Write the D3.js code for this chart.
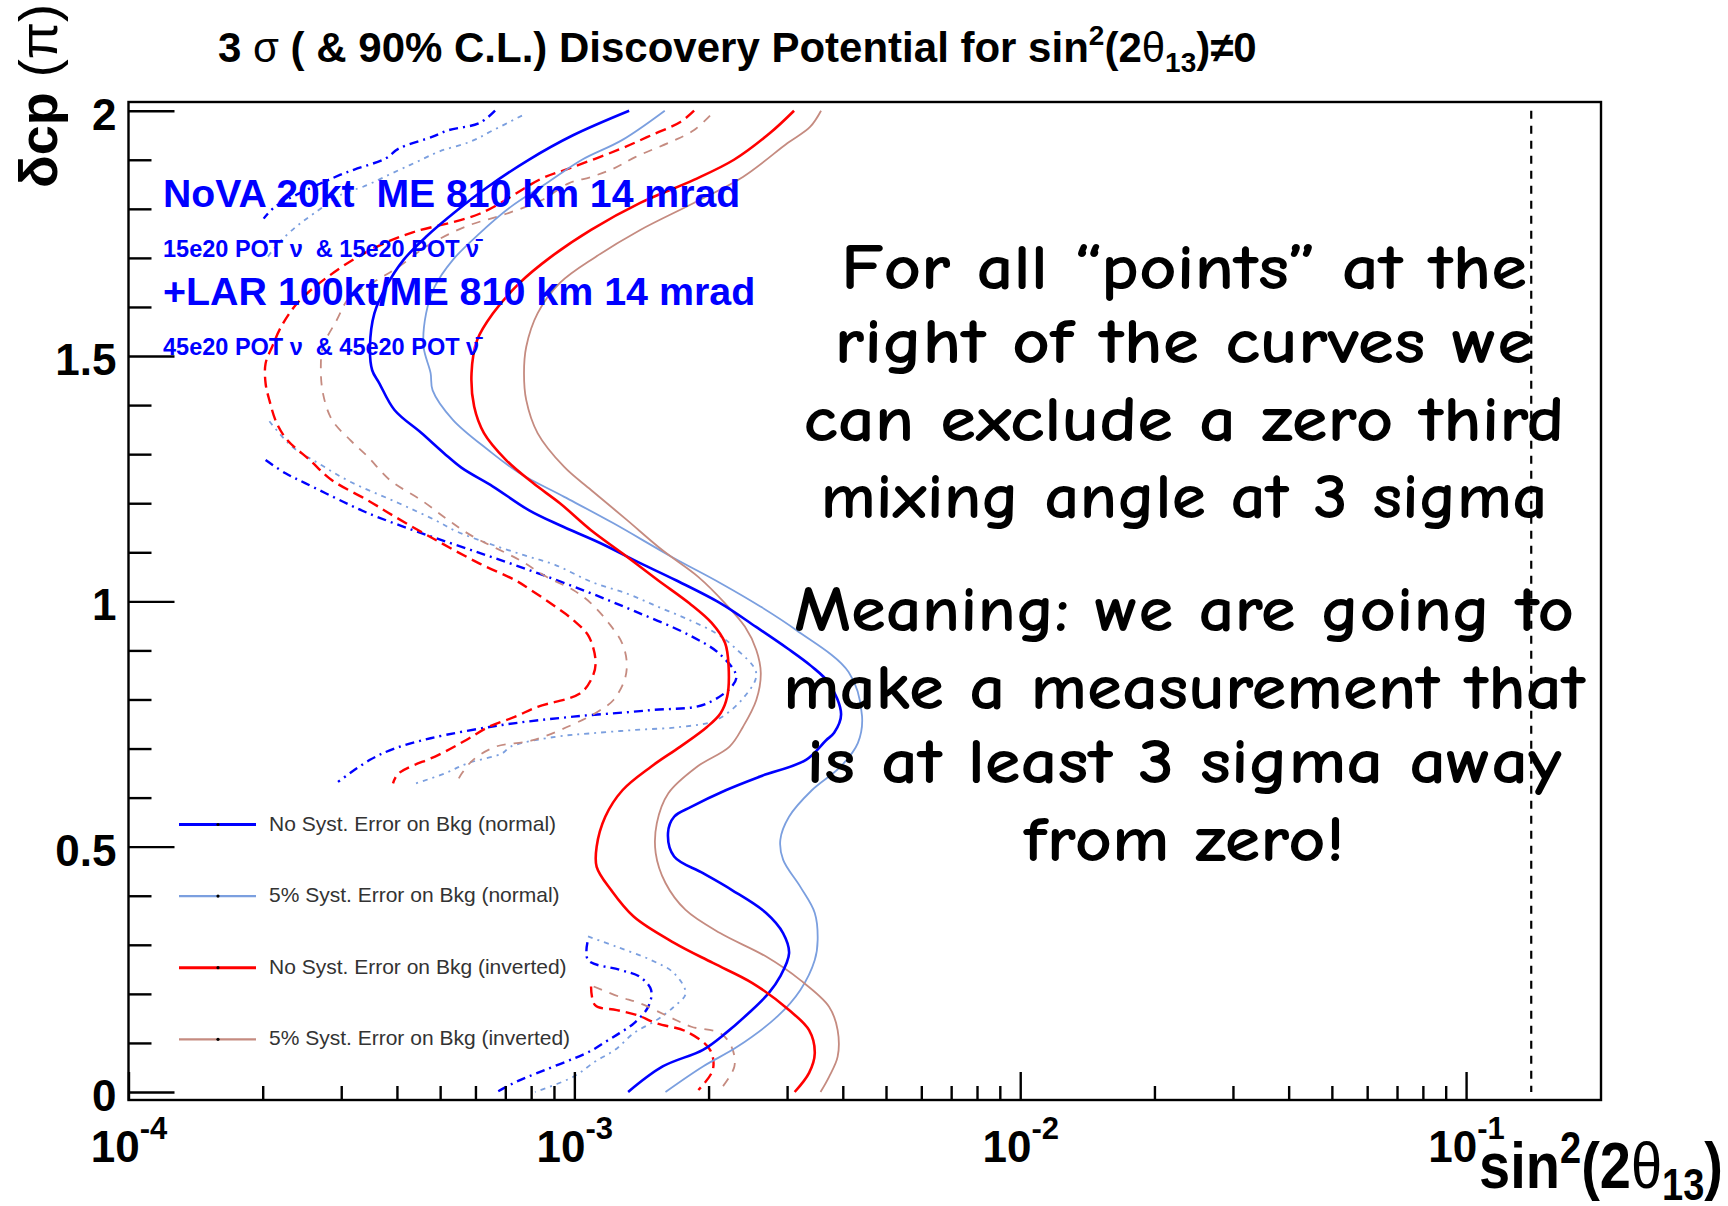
<!DOCTYPE html>
<html>
<head>
<meta charset="utf-8">
<script src="https://cdn.jsdelivr.net/npm/d3@7"></script>
<style>
  html, body { margin: 0; padding: 0; background: #fff; }
  svg { display: block; }
  .root { font-family: "Liberation Sans", Arial, Helvetica, sans-serif; }
  .note { font-family: "Comic Sans MS", "Comic Neue", "Open Sans", sans-serif; font-weight: 600; }
</style>
</head>
<body>
<svg id="chart" width="1728" height="1206"></svg>
<script>
// ---- contour points: [sin^2(2θ13), δcp / π] ----
const blueSolid = [[1.327e-3,2.0],[9.93e-4,1.95],[7.90e-4,1.90],[6.40e-4,1.845],[5.46e-4,1.797],[4.65e-4,1.743],[4.14e-4,1.696],[3.78e-4,1.641],[3.56e-4,1.587],[3.48e-4,1.519],[3.52e-4,1.471],[3.65e-4,1.445],[3.95e-4,1.39],[4.54e-4,1.343],[5.10e-4,1.302],[5.59e-4,1.272],[6.57e-4,1.234],[7.90e-4,1.186],[9.28e-4,1.155],[1.142e-3,1.119],[1.405e-3,1.078],[1.690e-3,1.043],[2.128e-3,0.996],[2.556e-3,0.948],[3.008e-3,0.904],[3.40e-3,0.868],[3.726e-3,0.833],[3.965e-3,0.77],[3.825e-3,0.732],[3.670e-3,0.717],[3.308e-3,0.677],[2.610e-3,0.643],[2.185e-3,0.615],[1.827e-3,0.581],[1.674e-3,0.561],[1.622e-3,0.528],[1.674e-3,0.480],[1.943e-3,0.446],[2.252e-3,0.412],[2.692e-3,0.365],[2.938e-3,0.324],[3.031e-3,0.283],[2.893e-3,0.235],[2.731e-3,0.202],[2.461e-3,0.161],[2.185e-3,0.12],[1.943e-3,0.086],[1.578e-3,0.052],[1.320e-3,0.0]];
const lightBlueSolid = [[1.595e-3,2.0],[1.279e-3,1.94],[1.040e-3,1.90],[8.66e-4,1.852],[7.20e-4,1.804],[6.13e-4,1.75],[5.34e-4,1.696],[4.86e-4,1.641],[4.65e-4,1.587],[4.59e-4,1.519],[4.76e-4,1.465],[4.81e-4,1.43],[5.34e-4,1.37],[6.42e-4,1.308],[7.54e-4,1.261],[9.49e-4,1.213],[1.224e-3,1.159],[1.651e-3,1.091],[2.128e-3,1.037],[2.619e-3,0.989],[3.149e-3,0.941],[4.121e-3,0.856],[4.418e-3,0.766],[4.323e-3,0.711],[3.954e-3,0.663],[3.409e-3,0.615],[3.030e-3,0.561],[2.897e-3,0.514],[2.940e-3,0.473],[3.213e-3,0.418],[3.461e-3,0.365],[3.513e-3,0.31],[3.461e-3,0.269],[3.213e-3,0.208],[2.854e-3,0.154],[2.319e-3,0.092],[1.943e-3,0.052],[1.601e-3,0.0]];
const redSolid = [[3.110e-3,2.0],[2.742e-3,1.954],[2.280e-3,1.9],[1.853e-3,1.859],[1.405e-3,1.812],[1.090e-3,1.757],[8.86e-4,1.702],[7.54e-4,1.649],[6.57e-4,1.587],[6.05e-4,1.532],[5.88e-4,1.465],[5.96e-4,1.397],[6.27e-4,1.343],[7.03e-4,1.288],[8.08e-4,1.241],[9.28e-4,1.2],[1.090e-3,1.145],[1.281e-3,1.098],[1.540e-3,1.043],[1.811e-3,0.996],[2.032e-3,0.956],[2.178e-3,0.915],[2.218e-3,0.867],[2.202e-3,0.806],[2.128e-3,0.772],[1.984e-3,0.744],[1.729e-3,0.704],[1.486e-3,0.663],[1.282e-3,0.615],[1.173e-3,0.561],[1.122e-3,0.50],[1.122e-3,0.459],[1.208e-3,0.412],[1.360e-3,0.357],[1.674e-3,0.304],[2.045e-3,0.263],[2.508e-3,0.222],[3.030e-3,0.167],[3.361e-3,0.126],[3.461e-3,0.079],[3.361e-3,0.039],[3.120e-3,0.0]];
const brownSolid = [[3.575e-3,2.0],[3.378e-3,1.967],[3.008e-3,1.934],[2.388e-3,1.865],[1.853e-3,1.812],[1.405e-3,1.757],[1.116e-3,1.702],[9.28e-4,1.649],[8.27e-4,1.587],[7.80e-4,1.519],[7.71e-4,1.465],[7.80e-4,1.41],[8.27e-4,1.343],[9.49e-4,1.274],[1.090e-3,1.227],[1.311e-3,1.166],[1.577e-3,1.104],[1.896e-3,1.05],[2.178e-3,0.996],[2.414e-3,0.948],[2.559e-3,0.901],[2.619e-3,0.854],[2.559e-3,0.799],[2.388e-3,0.744],[2.229e-3,0.704],[1.884e-3,0.663],[1.625e-3,0.609],[1.531e-3,0.548],[1.522e-3,0.487],[1.601e-3,0.426],[1.776e-3,0.371],[2.122e-3,0.324],[2.692e-3,0.276],[3.213e-3,0.228],[3.726e-3,0.174],[3.895e-3,0.126],[3.895e-3,0.072],[3.726e-3,0.031],[3.565e-3,0.0]];

// dashed contours stop where they reach the 2e-4 edge of the scan, so they come in pieces
const blueDashTop = [[6.64e-4,2.0],[6.13e-4,1.975],[5.21e-4,1.96],[4.81e-4,1.947],[4.04e-4,1.923],[3.78e-4,1.903],[3.21e-4,1.88],[2.98e-4,1.869],[2.13e-4,1.804],[2.01e-4,1.78]];
const blueDashMid = [[2.03e-4,1.288],[2.25e-4,1.261],[2.49e-4,1.241],[3.03e-4,1.203],[3.44e-4,1.18],[4.44e-4,1.142],[5.85e-4,1.105],[7.90e-4,1.064],[1.065e-3,1.02],[1.373e-3,0.979],[1.811e-3,0.931],[2.128e-3,0.891],[2.307e-3,0.843],[1.985e-3,0.792],[1.471e-3,0.778],[9.94e-4,0.765],[6.88e-4,0.748],[4.76e-4,0.721],[3.95e-4,0.7],[3.48e-4,0.677],[2.95e-4,0.632]];
const blueDashLow = [[1.07e-3,0.305],[1.073e-3,0.269],[1.263e-3,0.249],[1.401e-3,0.235],[1.486e-3,0.208],[1.465e-3,0.174],[1.360e-3,0.14],[1.263e-3,0.12],[1.178e-3,0.103],[1.079e-3,0.082],[7.96e-4,0.033],[7.30e-4,0.018],[6.70e-4,0.0]];
const lightBlueDashTop = [[7.63e-4,1.99],[6.57e-4,1.96],[5.85e-4,1.937],[4.98e-4,1.917],[4.44e-4,1.896],[4.04e-4,1.879],[3.36e-4,1.845],[3.03e-4,1.831],[2.61e-4,1.791],[2.38e-4,1.764],[2.17e-4,1.73],[2.03e-4,1.696]];
const lightBlueDashMid = [[2.07e-4,1.367],[2.33e-4,1.315],[2.67e-4,1.281],[3.14e-4,1.244],[4.04e-4,1.2],[4.86e-4,1.166],[5.46e-4,1.142],[6.42e-4,1.118],[7.71e-4,1.094],[9.07e-4,1.074],[1.090e-3,1.04],[1.311e-3,1.016],[1.540e-3,0.989],[1.811e-3,0.962],[2.079e-3,0.935],[2.280e-3,0.907],[2.559e-3,0.853],[2.388e-3,0.802],[2.079e-3,0.758],[1.729e-3,0.744],[1.373e-3,0.738],[1.090e-3,0.731],[9.07e-4,0.724],[7.20e-4,0.704],[6.88e-4,0.69],[5.76e-4,0.67],[5.11e-4,0.649],[4.41e-4,0.629]];
const lightBlueDashLow = [[1.073e-3,0.317],[1.244e-3,0.296],[1.486e-3,0.269],[1.674e-3,0.242],[1.776e-3,0.201],[1.674e-3,0.174],[1.531e-3,0.147],[1.360e-3,0.12],[1.234e-3,0.086],[1.113e-3,0.062],[9.95e-4,0.031],[8.16e-4,0.0]];
const redDashUpper = [[1.856e-3,2.0],[1.729e-3,1.977],[1.488e-3,1.95],[1.252e-3,1.92],[9.71e-4,1.882],[8.46e-4,1.862],[6.13e-4,1.79],[4.34e-4,1.752],[3.61e-4,1.723],[2.98e-4,1.679],[2.42e-4,1.613],[2.21e-4,1.563],[2.10e-4,1.519],[2.03e-4,1.485],[2.03e-4,1.444],[2.07e-4,1.41],[2.15e-4,1.363],[2.27e-4,1.329],[2.55e-4,1.288],[2.86e-4,1.247],[3.44e-4,1.206],[3.95e-4,1.173],[4.98e-4,1.121],[6.13e-4,1.077],[7.37e-4,1.043],[7.90e-4,1.026],[9.07e-4,0.989],[9.94e-4,0.962],[1.078e-3,0.928],[1.116e-3,0.874],[1.090e-3,0.84],[1.029e-3,0.812],[8.27e-4,0.785],[7.37e-4,0.765],[6.42e-4,0.744],[5.71e-4,0.717],[4.96e-4,0.687],[4.03e-4,0.649],[3.92e-4,0.629]];
const redDashLower = [[1.090e-3,0.215],[1.113e-3,0.177],[1.245e-3,0.167],[1.380e-3,0.157],[1.530e-3,0.14],[1.786e-3,0.123],[2.015e-3,0.086],[2.044e-3,0.045],[1.897e-3,0.004]];
const brownDashUpper = [[2.015e-3,1.99],[1.853e-3,1.96],[1.651e-3,1.937],[1.373e-3,1.906],[1.224e-3,1.882],[1.090e-3,1.865],[9.71e-4,1.852],[8.46e-4,1.818],[7.04e-4,1.79],[5.71e-4,1.764],[4.65e-4,1.723],[4.04e-4,1.682],[3.61e-4,1.655],[3.14e-4,1.621],[2.93e-4,1.573],[2.73e-4,1.519],[2.70e-4,1.478],[2.73e-4,1.424],[2.86e-4,1.37],[3.14e-4,1.329],[3.44e-4,1.295],[3.86e-4,1.247],[4.54e-4,1.206],[5.21e-4,1.166],[5.85e-4,1.135],[7.54e-4,1.084],[8.66e-4,1.05],[9.94e-4,1.023],[1.090e-3,0.996],[1.196e-3,0.955],[1.281e-3,0.914],[1.311e-3,0.874],[1.296e-3,0.84],[1.224e-3,0.799],[1.142e-3,0.778],[1.041e-3,0.758],[8.08e-4,0.717],[6.67e-4,0.704],[5.93e-4,0.677],[5.59e-4,0.649],[5.43e-4,0.629]];
const brownDashLower = [[1.105e-3,0.215],[1.263e-3,0.194],[1.401e-3,0.181],[1.625e-3,0.154],[1.830e-3,0.133],[2.122e-3,0.12],[2.252e-3,0.092],[2.285e-3,0.052],[2.122e-3,0.004]];

// reference limit drawn as a vertical dashed line
const limitValue = 0.14;

// axis ticks
const yMajorTicks = [0, 0.5, 1, 1.5, 2];
const yTickLabels = ["0", "0.5", "1", "1.5", "2"];
const xDecades = [1e-4, 1e-3, 1e-2, 1e-1];
const xExponents = ["-4", "-3", "-2", "-1"];

// legend entries and text blocks
const legendLabels = [
  "No Syst. Error on Bkg (normal)",
  "5% Syst. Error on Bkg (normal)",
  "No Syst. Error on Bkg (inverted)",
  "5% Syst. Error on Bkg (inverted)"
];
const noteLines = [
  "For all \u201Cpoints\u201D at the",
  "right of the curves we",
  "can exclude a zero third",
  "mixing angle at 3 sigma",
  "Meaning: we are going to",
  "make a measurement that",
  "is at least 3 sigma away",
  "from zero!"
];

// ---- layout ----
const svg = d3.select("#chart");
const frame = { left: 128.5, right: 1601, top: 102, bottom: 1100 };

const x = d3.scaleLog().domain([1e-4, 0.2]).range([128.5, 1600.3]);
const y = d3.scaleLinear().domain([0, 2]).range([1092, 110.7]);

const COLORS = { blue: "#0000ff", light: "#7b9fdf", red: "#ff0000", brown: "#c58b80" };
const DASH = { blue: "9,5,2,5", light: "5,5,2,5", red: "11,6", brown: "9,8" };

const seriesStyle = [
  { data: blueDashTop,        color: COLORS.blue,  width: 2.4, dash: DASH.blue },
  { data: blueDashMid,        color: COLORS.blue,  width: 2.4, dash: DASH.blue },
  { data: blueDashLow,        color: COLORS.blue,  width: 2.4, dash: DASH.blue },
  { data: lightBlueDashTop,   color: COLORS.light, width: 1.8, dash: DASH.light },
  { data: lightBlueDashMid,   color: COLORS.light, width: 1.8, dash: DASH.light },
  { data: lightBlueDashLow,   color: COLORS.light, width: 1.8, dash: DASH.light },
  { data: redDashUpper,       color: COLORS.red,   width: 2.4, dash: DASH.red },
  { data: redDashLower,       color: COLORS.red,   width: 2.4, dash: DASH.red },
  { data: brownDashUpper,     color: COLORS.brown, width: 1.8, dash: DASH.brown },
  { data: brownDashLower,     color: COLORS.brown, width: 1.8, dash: DASH.brown },
  { data: lightBlueSolid,     color: COLORS.light, width: 1.8, dash: null },
  { data: brownSolid,         color: COLORS.brown, width: 1.8, dash: null },
  { data: blueSolid,          color: COLORS.blue,  width: 2.6, dash: null },
  { data: redSolid,           color: COLORS.red,   width: 2.6, dash: null }
];

svg.append("rect").attr("width", 1728).attr("height", 1206).attr("fill", "#fff");

const plot = svg.append("g");
const line = d3.line()
  .x(d => x(d[0]))
  .y(d => y(d[1]))
  .curve(d3.curveCatmullRom.alpha(0.5));

plot.selectAll("path.curve")
  .data(seriesStyle)
  .join("path")
  .attr("class", "curve")
  .attr("d", s => line(s.data))
  .attr("fill", "none")
  .attr("stroke", s => s.color)
  .attr("stroke-width", s => s.width)
  .attr("stroke-dasharray", s => s.dash)
  .attr("stroke-linejoin", "round");

// vertical limit line
plot.append("line")
  .attr("x1", x(limitValue)).attr("x2", x(limitValue))
  .attr("y1", y(2)).attr("y2", y(0))
  .attr("stroke", "#000").attr("stroke-width", 2.2)
  .attr("stroke-dasharray", "8,7");

// ---- axes ----
const yAxis = d3.axisLeft(y).tickValues(yMajorTicks).tickSize(-46).tickPadding(12)
  .tickFormat((d, i) => yTickLabels[i]);
const yMinor = d3.axisLeft(y).tickValues(d3.range(1, 20).map(i => i / 10).filter(v => !yMajorTicks.includes(v)))
  .tickSize(-23).tickFormat("");

const gy = svg.append("g").attr("class", "root").attr("transform", `translate(${frame.left},0)`).call(yAxis);
const gym = svg.append("g").attr("transform", `translate(${frame.left},0)`).call(yMinor);
[gy, gym].forEach(g => {
  g.select(".domain").remove();
  g.selectAll(".tick line").attr("stroke", "#000").attr("stroke-width", 2.4);
});
gy.selectAll(".tick text")
  .attr("font-size", 44).attr("font-weight", "bold").attr("fill", "#000")
  .attr("font-family", "Liberation Sans, Arial, sans-serif")
  .attr("dy", "0.42em");

const xMinorVals = [];
xDecades.slice(0, 3).forEach(d => { for (let k = 2; k <= 9; k++) xMinorVals.push(d * k); });

const xAxis = d3.axisBottom(x).tickValues(xDecades).tickSize(-28).tickFormat("");
const xMinor = d3.axisBottom(x).tickValues(xMinorVals).tickSize(-14).tickFormat("");
const gx = svg.append("g").attr("transform", `translate(0,${frame.bottom})`).call(xAxis);
const gxm = svg.append("g").attr("transform", `translate(0,${frame.bottom})`).call(xMinor);
[gx, gxm].forEach(g => {
  g.select(".domain").remove();
  g.selectAll(".tick line").attr("stroke", "#000").attr("stroke-width", 2.4);
});
gx.selectAll(".tick").each(function (d, i) {
  const t = d3.select(this).append("text")
    .attr("class", "root")
    .attr("y", 62).attr("text-anchor", "middle")
    .attr("fill", "#000").attr("font-weight", "bold");
  t.append("tspan").attr("font-size", 44).text("10");
  t.append("tspan").attr("font-size", 31).attr("dy", -23).text(xExponents[i]);
});

// frame
svg.append("rect")
  .attr("x", frame.left).attr("y", frame.top)
  .attr("width", frame.right - frame.left).attr("height", frame.bottom - frame.top)
  .attr("fill", "none").attr("stroke", "#000").attr("stroke-width", 2.4);

// ---- titles ----
const title = svg.append("text").attr("class", "root")
  .attr("x", 218).attr("y", 62).attr("font-size", 42).attr("font-weight", "bold").attr("fill", "#000");
title.append("tspan").text("3 ");
title.append("tspan").attr("font-weight", "normal").text("\u03C3");
title.append("tspan").text(" ( & 90% C.L.) Discovery Potential for sin");
title.append("tspan").attr("font-size", 28).attr("dy", -17).text("2");
title.append("tspan").attr("dy", 17).text("(2");
title.append("tspan").attr("font-weight", "normal").text("\u03B8");
title.append("tspan").attr("font-size", 28).attr("dy", 10).text("13");
title.append("tspan").attr("dy", -10).text(")\u22600");

const xTitle = svg.append("text").attr("class", "root")
  .attr("transform", "translate(1723,1188) scale(1,1.15)")
  .attr("text-anchor", "end")
  .attr("font-size", 56).attr("font-weight", "bold").attr("fill", "#000");
xTitle.append("tspan").text("sin");
xTitle.append("tspan").attr("font-size", 38).attr("dy", -22).text("2");
xTitle.append("tspan").attr("dy", 22).text("(2");
xTitle.append("tspan").attr("font-weight", "normal").text("\u03B8");
xTitle.append("tspan").attr("font-size", 38).attr("dy", 10).text("13");
xTitle.append("tspan").attr("dy", -10).text(")");

const yTitle = svg.append("text").attr("class", "root")
  .attr("transform", "translate(57,188) rotate(-90)")
  .attr("font-size", 54).attr("fill", "#000");
yTitle.append("tspan").attr("font-weight", "bold").text("\u03B4cp");
yTitle.append("tspan").text(" (\u03C0)");

// ---- experiment labels ----
const labels = svg.append("g").attr("class", "root").attr("fill", "#0000ff").attr("font-weight", "bold");
labels.append("text").attr("x", 163).attr("y", 207).attr("font-size", 39.2).text("NoVA 20kt\u00A0 ME 810 km 14 mrad");
labels.append("text").attr("x", 163).attr("y", 257).attr("font-size", 23.5).text("15e20 POT \u03BD\u00A0 & 15e20 POT \u03BD\u0304");
labels.append("text").attr("x", 163).attr("y", 305).attr("font-size", 39.4).text("+LAR 100kt/ME 810 km 14 mrad");
labels.append("text").attr("x", 163).attr("y", 355).attr("font-size", 23.5).text("45e20 POT \u03BD\u00A0 & 45e20 POT \u03BD\u0304");

// ---- legend ----
const legendStyle = [
  { color: COLORS.blue,  width: 3 },
  { color: COLORS.light, width: 2.2 },
  { color: COLORS.red,   width: 3 },
  { color: COLORS.brown, width: 2.2 }
];
const legend = svg.append("g").attr("class", "root");
const entries = legend.selectAll("g").data(legendLabels).join("g")
  .attr("transform", (d, i) => `translate(0,${824.5 + i * 71.6})`);
entries.append("line").attr("x1", 179).attr("x2", 256).attr("y1", 0).attr("y2", 0)
  .attr("stroke", (d, i) => legendStyle[i].color).attr("stroke-width", (d, i) => legendStyle[i].width);
entries.append("circle").attr("cx", 218).attr("cy", 0).attr("r", 1.6).attr("fill", "#000");
entries.append("text").attr("x", 269).attr("y", 6).attr("font-size", 21).attr("fill", "#333").text(d => d);

// ---- annotation ----
const noteBaselines = [289.4, 363.1, 441.3, 518.1, 631.2, 709.4, 783.1, 861.3];
const noteWidths = [686, 699, 761, 727, 780, 802, 755, 321];
svg.append("g").attr("class", "note")
  .selectAll("text").data(noteLines).join("text")
  .attr("x", 1184).attr("y", (d, i) => noteBaselines[i])
  .attr("text-anchor", "middle").attr("font-size", 64).attr("fill", "#000")
  .attr("textLength", (d, i) => noteWidths[i]).attr("lengthAdjust", "spacingAndGlyphs")
  .text(d => d);
</script>
</body>
</html>
